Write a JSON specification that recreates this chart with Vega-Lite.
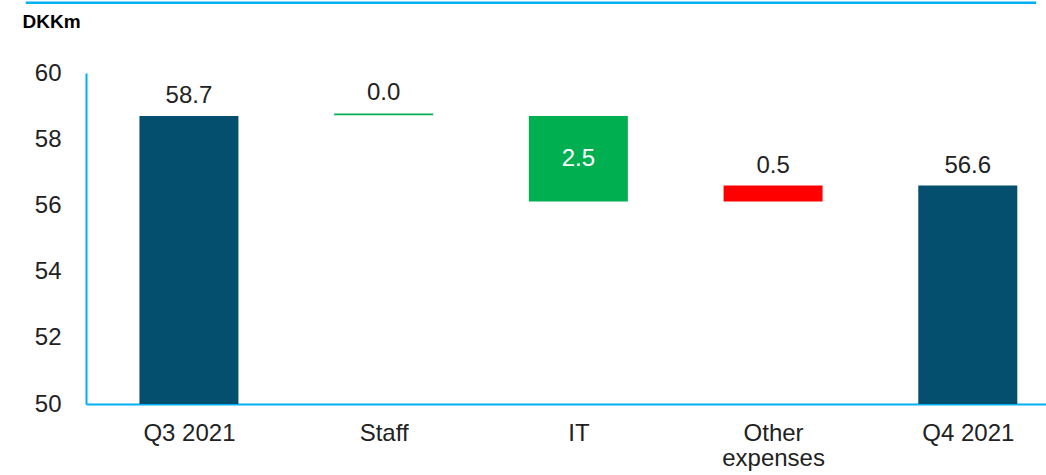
{
  "$schema": "https://vega.github.io/schema/vega-lite/v6.json",
  "width": 960,
  "height": 331,
  "autosize": {"type": "none"},
  "padding": {"left": 86, "top": 73, "right": 0, "bottom": 71},
  "background": "white",
  "config": {"view": {"stroke": null}, "font": "Liberation Sans"},
  "data": {
    "values": [
      {"i": 0, "category": "Q3 2021", "start": 50, "end": 58.7, "label": "58.7", "kind": "total", "pos": "above"},
      {"i": 1, "category": "Staff", "start": 58.72, "end": 58.78, "label": "0.0", "kind": "decrease", "pos": "above"},
      {"i": 2, "category": "IT", "start": 58.7, "end": 56.12, "label": "2.5", "kind": "decrease", "pos": "inside"},
      {"i": 3, "category": "Other expenses", "start": 56.12, "end": 56.6, "label": "0.5", "kind": "increase", "pos": "above"},
      {"i": 4, "category": "Q4 2021", "start": 50, "end": 56.6, "label": "56.6", "kind": "total", "pos": "above"}
    ]
  },
  "layer": [
    {
      "mark": {"type": "bar", "width": 99},
      "encoding": {
        "x": {
          "field": "i", "type": "quantitative",
          "scale": {"domain": [-0.503, 4.376], "nice": false, "zero": false},
          "axis": {
            "values": [0, 1, 2, 3, 4],
            "labelExpr": "['Q3 2021','Staff','IT',['Other','expenses'],'Q4 2021'][datum.value]",
            "title": null, "grid": false, "ticks": false, "tickSize": 0,
            "domainColor": "#00B0F0", "domainWidth": 2,
            "labelFontSize": 24, "labelColor": "#222222", "labelPadding": 17,
            "labelLineHeight": 25, "labelFlush": false, "labelOverlap": false, "labelBound": false
          }
        },
        "y": {
          "field": "start", "type": "quantitative",
          "scale": {"domain": [50, 60], "nice": false, "zero": false},
          "axis": {
            "values": [50, 52, 54, 56, 58, 60],
            "grid": false, "ticks": false, "tickSize": 0,
            "domainColor": "#00B0F0", "domainWidth": 2,
            "labelFontSize": 24, "labelColor": "#222222", "labelPadding": 25,
            "labelFlush": false, "labelOverlap": false,
            "title": "DKKm", "titleAngle": 0, "titleX": -64, "titleY": -46,
            "titleAlign": "left", "titleBaseline": "alphabetic",
            "titleFontSize": 19, "titleFontWeight": "bold", "titleColor": "#000000"
          }
        },
        "y2": {"field": "end"},
        "color": {
          "field": "kind", "type": "nominal",
          "scale": {"domain": ["total", "decrease", "increase"], "range": ["#034F6D", "#00B050", "#FF0000"]},
          "legend": null
        }
      }
    },
    {
      "transform": [
        {"filter": "datum.pos == 'above'"},
        {"calculate": "max(datum.start, datum.end)", "as": "top"}
      ],
      "mark": {"type": "text", "baseline": "alphabetic", "dy": -13, "fontSize": 24, "color": "#222222"},
      "encoding": {
        "x": {"field": "i", "type": "quantitative"},
        "y": {"field": "top", "type": "quantitative"},
        "text": {"field": "label"}
      }
    },
    {
      "transform": [
        {"filter": "datum.pos == 'inside'"},
        {"calculate": "(datum.start + datum.end) / 2", "as": "mid"}
      ],
      "mark": {"type": "text", "baseline": "middle", "fontSize": 24, "color": "#FFFFFF"},
      "encoding": {
        "x": {"field": "i", "type": "quantitative"},
        "y": {"field": "mid", "type": "quantitative"},
        "text": {"field": "label"}
      }
    },
    {
      "data": {"values": [{"x1": -0.838, "x2": 4.351, "y": 62.12}]},
      "mark": {"type": "rule", "color": "#00B0F0", "strokeWidth": 2.5, "clip": false},
      "encoding": {
        "x": {"field": "x1", "type": "quantitative"},
        "x2": {"field": "x2"},
        "y": {"field": "y", "type": "quantitative"}
      }
    }
  ]
}
